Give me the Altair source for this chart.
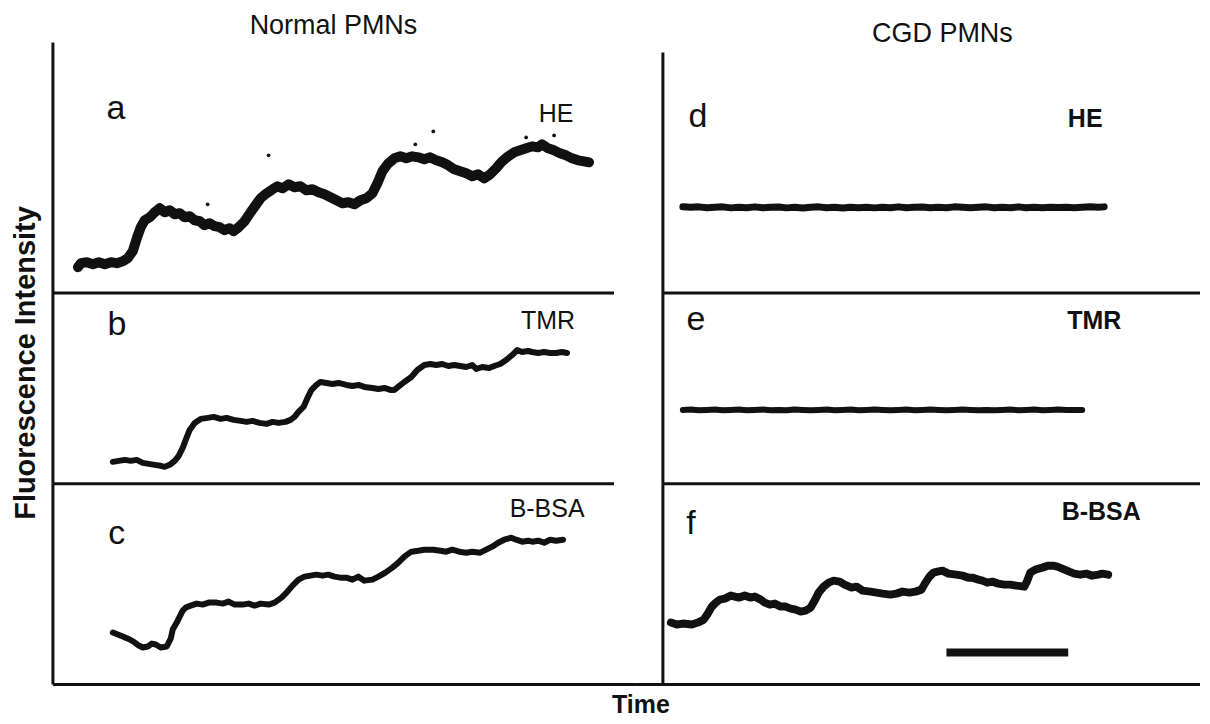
import altair as alt
import pandas as pd

# ---------------- data (time in s, fluorescence in arbitrary units) ----------------
# Normal PMNs
a_t = [12.5, 14, 17, 20, 23, 26, 29, 32, 35, 37.5, 40, 42, 44, 46, 48.5, 51, 53.5, 56, 58.5, 61,
       63.5, 66, 68.5, 71, 73.5, 76, 78.5, 81, 83.5, 86, 88.5, 90.5, 93, 96, 99, 101.5, 104, 107, 110, 112.5,
       115, 118, 121, 124, 127, 130, 133, 136, 139, 142, 145, 148, 151, 154, 157, 160, 162.5, 165, 168, 171,
       174, 177, 180, 183, 186, 189, 192, 195, 198, 201, 204, 207, 210, 213, 216, 219, 222, 225, 228, 231,
       234, 237, 240, 243, 245, 248, 251, 254, 257, 260, 263, 266, 268.5]
a_i = [13, 15, 15.5, 14.5, 15.5, 14.5, 15.5, 15, 16, 17.5, 21, 27.5, 33, 36.5, 38, 40.5, 42.5, 40.5, 41.5, 39.5,
       40, 38, 38.5, 36.5, 36, 34, 35, 33.5, 33, 31.5, 32.5, 31, 33, 36, 40.5, 44, 47.5, 50, 52, 53.5,
       52.5, 54.5, 53, 53.5, 51.5, 52, 50.5, 49.5, 48, 46.5, 45, 45.5, 44.5, 46.5, 47.5, 50, 55, 61, 65, 67.5,
       68.5, 67.5, 68.5, 68, 67, 68, 66.5, 65.5, 64, 62, 61, 60, 58.5, 59.5, 57.5, 59.5, 62.5, 66, 68.5, 70.5,
       71.5, 72.5, 73.5, 73, 74.5, 72.5, 71.5, 70, 69, 67.5, 66.5, 66, 65.5]
a_dots_t = [77.5, 108, 181.5, 190.5, 237, 251]
a_dots_i = [44.5, 69, 74.5, 81, 78, 79]

b_t = [30, 33, 36, 39, 42, 45, 48, 51, 54, 56, 58.5, 61, 63, 65, 66.5, 68.5, 71, 74, 77.5, 80.5,
       84, 87, 90.5, 94, 97, 100, 103.5, 107, 110, 113, 116.5, 119, 121, 123, 125.5, 127.5, 129.5, 132, 134, 137,
       140, 143, 147, 150, 153, 156, 160, 163, 166, 169, 171, 173.5, 176, 179.5, 182.5, 186, 189, 192, 195, 198,
       201, 204, 207, 210, 212, 215, 218.5, 221, 224, 227, 230, 232.5, 235, 238, 240, 243, 246, 249, 252, 255, 257.5]
b_i = [11, 11.5, 12, 11.5, 12, 10.5, 10, 9.5, 9, 8.5, 9.5, 11.5, 14, 18, 22, 27, 30.5, 32.5, 33, 33.5,
       32.5, 33, 32, 31.5, 31, 31.5, 30.5, 30, 31, 30.5, 31, 32, 33.5, 36, 38.5, 43, 47, 49.5, 51, 50.5,
       50, 50.5, 49.5, 49, 49.5, 48.5, 48, 47.5, 48, 47, 47, 49, 51, 53.5, 57, 59.5, 60, 59.5, 60, 59,
       59.5, 59, 58.5, 59.5, 57.5, 58.5, 58, 59, 60, 62, 64.5, 67, 66, 66.5, 66, 65.5, 66, 65.5, 65.5, 66, 65.5]

c_t = [30, 32.5, 35, 38.5, 41, 43, 45, 47.5, 49.5, 51.5, 54, 57, 59, 60, 62, 63.5, 65, 66.5, 69, 72,
       75, 78, 82, 85, 88, 91, 95, 98, 101, 104, 108, 111, 114.5, 117, 120, 123, 126, 129, 132, 135,
       138, 141, 144, 147, 150, 153, 156, 160, 163, 166.5, 170, 173, 176, 179.5, 183, 186, 190.5, 194, 197, 200,
       203.5, 207, 210, 214, 217, 220, 223, 226, 229.5, 232, 235, 238, 240, 243, 246, 249, 252, 255.5]
c_i = [26, 25, 24, 22.5, 21, 19.5, 18.5, 19, 20.5, 20, 18.5, 19, 23, 27.5, 31, 34, 37, 38.5, 39.5, 40.5,
       40, 41, 41, 40.5, 41.5, 40, 40, 40.5, 39.5, 40.5, 40, 41, 43.5, 46, 49.5, 52.5, 54, 54.5, 55, 54.5,
       55, 54, 53.5, 53.5, 52.5, 54, 52, 52.5, 54, 56, 58.5, 61, 64, 66.5, 67, 67.5, 67.5, 67, 66.5, 67.5,
       66.5, 66, 66.5, 66, 67.5, 69, 71, 72.5, 73.5, 72.5, 71.5, 72, 71.5, 72, 71, 72.5, 72, 72.5]

# CGD PMNs
d_t = [10, 14, 18, 22, 26, 30, 34, 38, 42, 46, 50, 54, 58, 62, 66, 70, 74, 78, 82, 86,
       90, 94, 98, 102, 106, 110, 114, 118, 122, 126, 130, 134, 138, 142, 146, 150, 154, 158, 162, 166,
       170, 174, 178, 182, 186, 190, 194, 198, 202, 206, 210, 214, 218, 221]
d_i = [43.2, 43, 43.2, 42.8, 43, 43.2, 42.7, 43, 42.8, 43.2, 42.8, 43, 43.1, 42.7, 43, 42.6, 43, 43.2, 42.8, 43,
       42.6, 43, 42.8, 43, 42.7, 43, 42.8, 43.2, 42.8, 43, 43.1, 42.8, 43, 42.8, 43.2, 43, 42.8, 43, 43.2, 42.8,
       43, 42.8, 43.2, 42.8, 43, 42.8, 43, 42.9, 43, 42.8, 43, 43.2, 43, 43.2]

e_t = [10, 14, 18, 22, 26, 30, 34, 38, 42, 46, 50, 54, 58, 62, 66, 70, 74, 78, 82, 86,
       90, 94, 98, 102, 106, 110, 114, 118, 122, 126, 130, 134, 138, 142, 146, 150, 154, 158, 162, 166,
       170, 174, 178, 182, 186, 190, 194, 198, 202, 206, 210]
e_i = [37, 37.2, 36.8, 37, 37.2, 36.8, 37, 37.2, 36.8, 37, 37.2, 36.8, 37, 36.8, 37.2, 37, 36.8, 37, 37.2, 36.8,
       37, 37.2, 36.8, 37, 37.2, 37, 36.8, 37, 37.2, 36.8, 37, 37.2, 37, 36.8, 37, 37.2, 37, 36.8, 37, 36.8,
       37, 37.2, 36.8, 37, 37.2, 36.8, 37, 37.2, 37, 37, 37]

f_t = [4, 7, 10, 14.5, 17.5, 20.5, 22.5, 24.5, 26.5, 28.5, 31, 34, 38, 41, 44, 46, 49, 51, 53.5, 56,
       59, 61.5, 64, 66.5, 69, 71.5, 74, 76, 78, 80.5, 83, 85.5, 88.5, 91, 94.5, 97, 100, 104, 107, 110,
       114, 117, 120, 123.5, 126.5, 129.5, 131.5, 133.5, 135.5, 137.5, 140, 143, 147, 150, 153, 155, 158, 160, 162.5, 165,
       168, 171, 174, 177, 181, 182.5, 184, 186.5, 190, 193, 195.5, 197.5, 200, 203.5, 206, 209, 212, 215, 218, 220, 223]
f_i = [31, 30, 30.5, 30, 31, 32.5, 35.5, 39, 41, 42.5, 43, 44.5, 43.5, 44.5, 43.5, 44, 42.5, 41, 40, 40.5,
       39, 39, 38, 37.5, 36.5, 37, 38.5, 42, 46, 49, 51, 52, 51.5, 50, 48.5, 49, 47, 46.5, 46, 45.5,
       45, 45.5, 46.5, 46, 46.5, 47.5, 51, 54, 56, 56.5, 57, 55.5, 55, 54.5, 53.5, 53.5, 52.5, 52, 51, 51.5,
       50.5, 50, 50, 49.5, 49, 52, 56, 57.5, 58.5, 59.5, 59.5, 59, 58, 56.5, 55.5, 55, 55.5, 54.5, 55, 55.5, 55]

scalebar_t = [142]
scalebar_t2 = [203]
scalebar_i = [16]

col_titles = ["Normal PMNs", "CGD PMNs"]
panel_letters = ["a", "b", "c", "d", "e", "f"]
probes = ["HE", "TMR", "B-BSA", "HE", "TMR", "B-BSA"]
y_title = "Fluorescence Intensity"
x_title = "Time"

# ---------------- styling ----------------
FONT = "Liberation Sans"
INK = "#111111"
LEFT_W, RIGHT_W = 630, 564
ROW_H = [285, 191, 232]

LEFT_X = alt.Scale(domain=[0, 281], range=[45, 607])
RIGHT_X = alt.Scale(domain=[0, 269], range=[26, 564])
ROW_Y = [alt.Scale(domain=[0, 125.5], range=[285, 34]),
         alt.Scale(domain=[0, 95.5], range=[191, 0]),
         alt.Scale(domain=[0, 100.5], range=[201, 0])]

one = alt.Data(values=[{}])


def trace(t, i, xs, ys, sw):
    df = pd.DataFrame({"t": t, "i": i})
    return alt.Chart(df).mark_line(color=INK, strokeWidth=sw, strokeCap="round",
                                   strokeJoin="round").encode(
        x=alt.X("t:Q", scale=xs, axis=None),
        y=alt.Y("i:Q", scale=ys, axis=None))


def dots(t, i, xs, ys):
    df = pd.DataFrame({"t": t, "i": i})
    return alt.Chart(df).mark_circle(color=INK, size=14, opacity=1).encode(
        x=alt.X("t:Q", scale=xs, axis=None),
        y=alt.Y("i:Q", scale=ys, axis=None))


def vrule(x, y1, y2):
    return alt.Chart(one).mark_rule(color=INK, strokeWidth=3).encode(
        x=alt.value(x), y=alt.value(y1), y2=alt.value(y2))


def hrule(y, x1, x2):
    return alt.Chart(one).mark_rule(color=INK, strokeWidth=3).encode(
        y=alt.value(y), x=alt.value(x1), x2=alt.value(x2))


def txt(s, x, y, size, weight="normal", angle=0):
    return alt.Chart(one).mark_text(text=s, font=FONT, fontSize=size, fontWeight=weight,
                                    color=INK, align="center", baseline="middle",
                                    angle=angle).encode(x=alt.value(x), y=alt.value(y))


# ---------------- left column (normal PMNs) ----------------
pa = alt.layer(
    trace(a_t, a_i, LEFT_X, ROW_Y[0], 10),
    dots(a_dots_t, a_dots_i, LEFT_X, ROW_Y[0]),
    vrule(45, 34, 285), hrule(285, 45, 607),
    txt(col_titles[0], 326, 17, 27),
    txt(panel_letters[0], 108, 101, 34),
    txt(probes[0], 549, 106, 25),
).properties(width=LEFT_W, height=ROW_H[0])

pb = alt.layer(
    trace(b_t, b_i, LEFT_X, ROW_Y[1], 6),
    vrule(45, 0, 191), hrule(191, 45, 607),
    txt(panel_letters[1], 109, 32, 34),
    txt(probes[1], 541, 28, 25),
    txt(y_title, 18, 70, 29, "bold", 270),
).properties(width=LEFT_W, height=ROW_H[1])

pc = alt.layer(
    trace(c_t, c_i, LEFT_X, ROW_Y[2], 6),
    vrule(45, 0, 201), hrule(201, 45, 630),
    txt(panel_letters[2], 109, 50, 34),
    txt(probes[2], 540, 25, 25),
    txt(x_title, 634, 222, 25, "bold"),
).properties(width=LEFT_W, height=ROW_H[2])

# ---------------- right column (CGD PMNs) ----------------
pd_ = alt.layer(
    trace(d_t, d_i, RIGHT_X, ROW_Y[0], 7),
    vrule(26, 44, 285), hrule(285, 26, 564),
    txt(col_titles[1], 306, 25, 27),
    txt(panel_letters[3], 61, 109, 34),
    txt(probes[3], 449, 111, 25, "bold"),
).properties(width=RIGHT_W, height=ROW_H[0])

pe = alt.layer(
    trace(e_t, e_i, RIGHT_X, ROW_Y[1], 6),
    vrule(26, 0, 191), hrule(191, 26, 564),
    txt(panel_letters[4], 59, 27, 34),
    txt(probes[4], 458, 28, 25, "bold"),
).properties(width=RIGHT_W, height=ROW_H[1])

sbar = alt.Chart(pd.DataFrame({"t": scalebar_t, "t2": scalebar_t2, "i": scalebar_i})).mark_rule(
    color=INK, strokeWidth=8, strokeCap="butt").encode(
    x=alt.X("t:Q", scale=RIGHT_X, axis=None), x2="t2:Q",
    y=alt.Y("i:Q", scale=ROW_Y[2], axis=None))

pf = alt.layer(
    trace(f_t, f_i, RIGHT_X, ROW_Y[2], 8),
    sbar,
    vrule(26, 0, 201), hrule(201, 0, 564),
    txt(panel_letters[5], 54, 40, 34),
    txt(probes[5], 465, 28, 25, "bold"),
).properties(width=RIGHT_W, height=ROW_H[2])

chart = alt.concat(pa, pd_, pb, pe, pc, pf, columns=2, spacing=0,
                   bounds="flush", align="each").properties(
    padding=0, background="white"
).configure_view(stroke=None)

chart.save("out.html", embed_options={"renderer": "svg", "actions": False})
